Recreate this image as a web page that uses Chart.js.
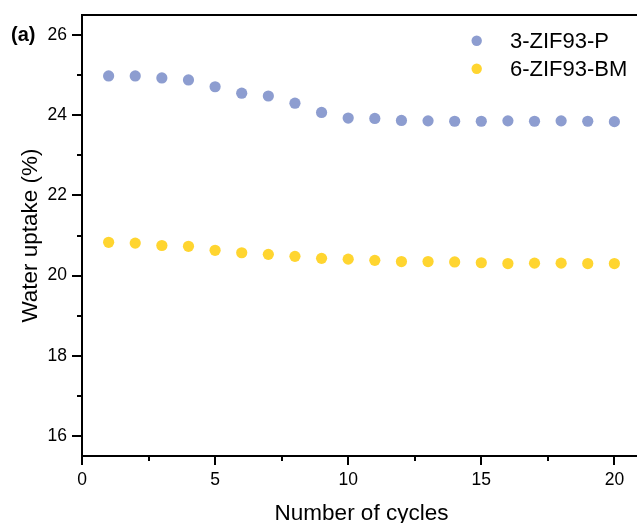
<!DOCTYPE html>
<html>
<head>
<meta charset="utf-8">
<script src="https://cdn.jsdelivr.net/npm/chart.js@4.4.1/dist/chart.umd.min.js"></script>
<style>
	html, body { margin: 0; padding: 0; background: #fff; overflow: hidden; }
	#wrap { width: 641px; height: 523px; }
</style>
</head>
<body>
<div id="wrap"><canvas id="cycleChart" width="641" height="523"></canvas></div>
<script>
"use strict"

const cycles = [1, 2, 3, 4, 5, 6, 7, 8, 9, 10, 11, 12, 13, 14, 15, 16, 17, 18, 19, 20]
const uptakeP = [24.98, 24.98, 24.93, 24.88, 24.71, 24.55, 24.48, 24.30, 24.07, 23.93, 23.92, 23.87, 23.86, 23.85, 23.85, 23.86, 23.85, 23.86, 23.85, 23.84]
const uptakeBM = [20.83, 20.81, 20.75, 20.73, 20.63, 20.57, 20.53, 20.48, 20.43, 20.41, 20.38, 20.35, 20.35, 20.34, 20.32, 20.30, 20.31, 20.31, 20.30, 20.30]
const seriesNames = ["3-ZIF93-P", "6-ZIF93-BM"]
const xMajorTicks = [0, 5, 10, 15, 20]
const xMinorTicks = [2.5, 7.5, 12.5, 17.5]
const yMajorTicks = [16, 18, 20, 22, 24, 26]
const yMinorTicks = [17, 19, 21, 23, 25]

const FONT = "'Liberation Sans', Arial, sans-serif"
const colorP = "#8d9dd0"
const colorBM = "#ffd530"

function toPoints(xs, ys) {
	return xs.map((x, i) => ({ x: x, y: ys[i] }))
}

// ticks, frame, titles and the legend box
const decorations = {
	id: "decorations",
	afterDraw(chart) {
		const ctx = chart.ctx
		const area = chart.chartArea
		const xs = chart.scales.x
		const ys = chart.scales.y
		ctx.save()
		ctx.strokeStyle = "#000"
		ctx.lineWidth = 2

		// top frame line
		ctx.beginPath()
		ctx.moveTo(area.left - 1, area.top)
		ctx.lineTo(area.right, area.top)
		ctx.stroke()

		// outward ticks
		const tick = (x1, y1, x2, y2) => {
			ctx.beginPath()
			ctx.moveTo(x1, y1)
			ctx.lineTo(x2, y2)
			ctx.stroke()
		}
		xMajorTicks.forEach((v) => {
			const px = Math.round(xs.getPixelForValue(v))
			tick(px, area.bottom, px, area.bottom + 9)
		})
		xMinorTicks.forEach((v) => {
			const px = Math.round(xs.getPixelForValue(v))
			tick(px, area.bottom, px, area.bottom + 5)
		})
		yMajorTicks.forEach((v) => {
			const py = Math.round(ys.getPixelForValue(v))
			tick(area.left, py, area.left - 10, py)
		})
		yMinorTicks.forEach((v) => {
			const py = Math.round(ys.getPixelForValue(v))
			tick(area.left, py, area.left - 5, py)
		})

		// axis titles
		ctx.fillStyle = "#000"
		ctx.font = "22.5px " + FONT
		ctx.textAlign = "center"
		ctx.textBaseline = "alphabetic"
		ctx.fillText("Number of cycles", (area.left + area.right) / 2, 520)
		ctx.save()
		ctx.translate(37, (area.top + area.bottom) / 2)
		ctx.rotate(-Math.PI / 2)
		ctx.fillText("Water uptake (%)", 0, 0)
		ctx.restore()

		// panel label
		ctx.font = "bold 20px " + FONT
		ctx.textAlign = "left"
		ctx.fillText("(a)", 11, 41)

		// legend
		ctx.font = "22px " + FONT
		chart.data.datasets.forEach((ds, i) => {
			const cy = 40.7 + i * 28
			ctx.fillStyle = ds.backgroundColor
			ctx.beginPath()
			ctx.arc(476.7, cy, 5.2, 0, Math.PI * 2)
			ctx.fill()
			ctx.fillStyle = "#000"
			ctx.fillText(ds.label, 510, cy + 7.3)
		})
		ctx.restore()
	},
}

const ctx = document.getElementById("cycleChart")
const cycleChart = new Chart(ctx, {
	type: "scatter",
	data: {
		datasets: [
			{
				label: seriesNames[0],
				data: toPoints(cycles, uptakeP),
				backgroundColor: colorP,
				borderWidth: 0,
				pointRadius: 5.6,
			},
			{
				label: seriesNames[1],
				data: toPoints(cycles, uptakeBM),
				backgroundColor: colorBM,
				borderWidth: 0,
				pointRadius: 5.6,
			},
		],
	},
	options: {
		responsive: false,
		animation: false,
		devicePixelRatio: 1,
		events: [],
		layout: {
			autoPadding: false,
			padding: { top: 15, left: 0, right: 0, bottom: 0 },
		},
		plugins: {
			legend: { display: false },
			tooltip: { enabled: false },
		},
		scales: {
			x: {
				type: "linear",
				min: 0,
				max: 21,
				afterBuildTicks: (scale) => {
					scale.ticks = xMajorTicks.map((v) => ({ value: v }))
				},
				afterFit: (scale) => {
					scale.height = 67
					scale.paddingLeft = 0
					scale.paddingRight = 0
				},
				grid: { display: false, drawTicks: false, tickLength: 0 },
				border: { display: true, color: "#000", width: 2 },
				ticks: {
					color: "#000",
					padding: 14,
					maxRotation: 0,
					font: { family: FONT, size: 17.5 },
				},
			},
			y: {
				type: "linear",
				min: 15.5,
				max: 26.5,
				afterBuildTicks: (scale) => {
					scale.ticks = yMajorTicks.map((v) => ({ value: v }))
				},
				afterFit: (scale) => {
					scale.width = 82
					scale.paddingTop = 0
					scale.paddingBottom = 0
				},
				grid: { display: false, drawTicks: false, tickLength: 0 },
				border: { display: true, color: "#000", width: 2 },
				ticks: {
					color: "#000",
					padding: 15,
					font: { family: FONT, size: 17.5 },
				},
			},
		},
	},
	plugins: [decorations],
})
</script>
</body>
</html>
